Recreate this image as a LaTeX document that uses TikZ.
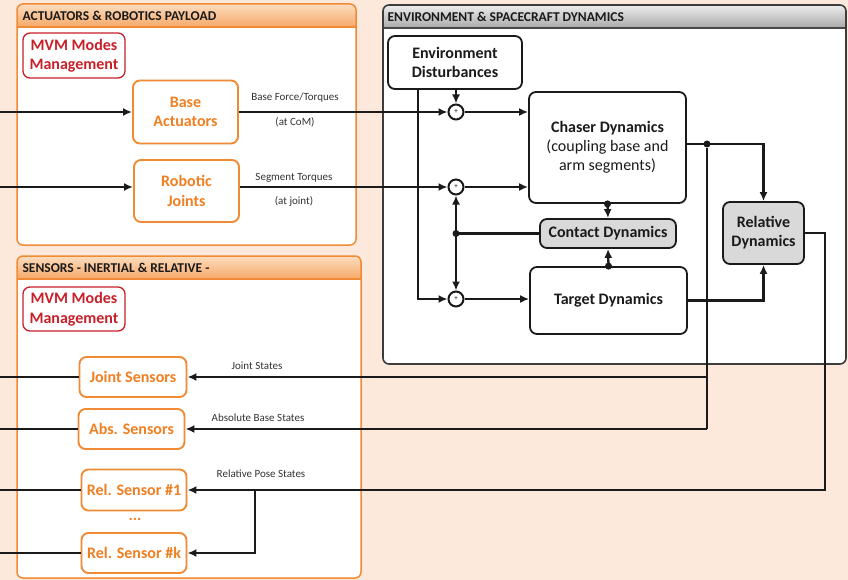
\documentclass[tikz,border=0pt]{standalone}
\usepackage{fontspec}
\setmainfont{Carlito}
\usetikzlibrary{arrows.meta}

\definecolor{bgpeach}{HTML}{FCE9DB}
\definecolor{orline}{HTML}{F08A34}
\definecolor{ortext}{HTML}{F07F22}
\definecolor{orhdrtop}{HTML}{FCDDBF}
\definecolor{orhdrbot}{HTML}{F6A868}
\definecolor{grhdrtop}{HTML}{EDEDED}
\definecolor{grhdrbot}{HTML}{A9A9A9}
\definecolor{mvmred}{HTML}{C8202A}
\definecolor{inkdark}{HTML}{1A1A1A}
\definecolor{labgray}{HTML}{333333}
\definecolor{softgray}{HTML}{D9D9D9}

\tikzset{
  panelor/.style={draw=orline, line width=1.5pt, rounded corners=6pt},
  panelgr/.style={draw=inkdark!85, line width=1.6pt, rounded corners=6pt},
  hdrtext/.style={anchor=west, font=\fontsize{13.5}{15}\selectfont\bfseries, text=inkdark},
  obox/.style={draw=orline, line width=1.9pt, rounded corners=7pt, fill=white,
    text=ortext, font=\fontsize{16}{19.5}\selectfont\bfseries, align=center, inner sep=0pt},
  mvmbox/.style={draw=mvmred, line width=1.3pt, rounded corners=7pt, fill=white,
    text=mvmred, font=\fontsize{16}{19.5}\selectfont\bfseries, align=center, inner sep=0pt},
  dynbox/.style={draw=inkdark, line width=1.8pt, rounded corners=7pt, fill=white,
    text=inkdark, font=\fontsize{16}{19}\selectfont\bfseries, align=center, inner sep=0pt},
  sumnode/.style={circle, draw=inkdark, line width=2pt, fill=white, minimum size=15pt,
    inner sep=0pt, font=\fontsize{7}{7}\selectfont},
  junction/.style={circle, fill=inkdark, minimum size=7pt, inner sep=0pt},
  wire/.style={draw=inkdark, line width=2.3pt},
  arr/.style={wire, -{Latex[length=9pt,width=8pt]}},
  siglab/.style={font=\fontsize{11}{12}\selectfont, text=labgray},
}

\begin{document}
\begin{tikzpicture}[x=1pt,y=-1pt]
  % canvas
  \fill[bgpeach] (0,0) rectangle (848,580);
  \useasboundingbox (0,0) rectangle (848,580);

  % ---------- panel: actuators & robotics payload ----------
  \fill[white, rounded corners=6pt] (17,4) rectangle (356,245);
  \begin{scope}
    \clip[rounded corners=6pt] (17,4) rectangle (356,245);
    \shade[top color=orhdrtop, bottom color=orhdrbot] (17,4) rectangle (356,27);
    \draw[orline, line width=1.2pt] (17,27) -- (356,27);
  \end{scope}
  \draw[panelor] (17,4) rectangle (356,245);
  \node[hdrtext] (hdrA) at (19,16) {ACTUATORS \& ROBOTICS PAYLOAD};

  % ---------- panel: sensors ----------
  \fill[white, rounded corners=6pt] (17,256) rectangle (361,578);
  \begin{scope}
    \clip[rounded corners=6pt] (17,256) rectangle (361,578);
    \shade[top color=orhdrtop, bottom color=orhdrbot] (17,256) rectangle (361,279);
    \draw[orline, line width=1.2pt] (17,279) -- (361,279);
  \end{scope}
  \draw[panelor] (17,256) rectangle (361,578);
  \node[hdrtext] (hdrS) at (19,268) {SENSORS - INERTIAL \& RELATIVE -};

  % ---------- panel: environment & spacecraft dynamics ----------
  \fill[white, rounded corners=6pt] (383,5) rectangle (846,364);
  \begin{scope}
    \clip[rounded corners=6pt] (383,5) rectangle (846,364);
    \shade[top color=grhdrtop, bottom color=grhdrbot] (383,5) rectangle (846,28);
    \draw[inkdark!80, line width=1.2pt] (383,28) -- (846,28);
  \end{scope}
  \draw[panelgr] (383,5) rectangle (846,364);
  \node[hdrtext] (hdrE) at (384,16.5) {ENVIRONMENT \& SPACECRAFT DYNAMICS};

  % ---------- payload blocks ----------
  \node[mvmbox, minimum width=102pt, minimum height=45pt] (mvmA) at (74,55.5) {MVM Modes\\Management};
  \node[obox, minimum width=105pt, minimum height=63pt] (ba) at (185.5,112) {Base\\Actuators};
  \node[obox, minimum width=105pt, minimum height=62pt] (rj) at (186.5,191) {Robotic\\Joints};

  % ---------- sensor blocks ----------
  \node[mvmbox, minimum width=102pt, minimum height=44pt] (mvmS) at (74,309) {MVM Modes\\Management};
  \node[obox, minimum width=107pt, minimum height=40pt] (js) at (133,377) {Joint Sensors};
  \node[obox, minimum width=106pt, minimum height=40pt] (as) at (131.5,429) {Abs. Sensors};
  \node[obox, minimum width=105pt, minimum height=41pt] (rs1) at (134,490) {Rel. Sensor \#1};
  \node[obox, minimum width=105pt, minimum height=40pt] (rsk) at (134,553) {Rel. Sensor \#k};
  \node[text=ortext, font=\fontsize{16}{16}\selectfont\bfseries] (dots) at (135,519) {...};

  % ---------- dynamics blocks ----------
  \node[dynbox, minimum width=134pt, minimum height=53pt] (ed) at (455,62.5) {Environment\\Disturbances};
  \node[dynbox, minimum width=157pt, minimum height=111pt] (ch) at (607.5,147.5)
    {Chaser Dynamics\\{\mdseries (coupling base and}\\{\mdseries arm segments)}};
  \node[dynbox, fill=softgray, minimum width=136pt, minimum height=29pt] (cd) at (608,233.5) {Contact Dynamics};
  \node[dynbox, minimum width=157pt, minimum height=67pt] (td) at (608.5,300.5) {Target Dynamics};
  \node[dynbox, fill=softgray, minimum width=81pt, minimum height=62pt] (rd) at (763.5,233) {Relative\\Dynamics};

  % summing junctions
  \node[sumnode] (s1) at (456,112) {+};
  \node[sumnode] (s2) at (456,187) {+};
  \node[sumnode] (s3) at (456,299) {+};

  % ---------- helper coordinates ----------
  \coordinate (inA) at (0,112);
  \coordinate (inB) at (0,187);
  \coordinate (edx) at (418,0);
  \coordinate (chy) at (0,144);
  \coordinate (jx) at (707,0);
  \coordinate (rx) at (825,0);
  \coordinate (bx) at (255,0);
  \coordinate (lft) at (0,0);

  % ---------- commands into the payload ----------
  \draw[arr] (inA) -- (ba.west);
  \draw[arr] (inB) -- (inB -| rj.west);

  % ---------- payload to dynamics ----------
  \draw[arr] (ba.east) -- (s1.west);
  \draw[arr] (rj.east |- s2) -- (s2.west);
  \node[siglab] (lbBF) at (295,98) {Base Force/Torques};
  \node[siglab] (lbCoM) at (295,122) {(at CoM)};
  \node[siglab] (lbST) at (294,178) {Segment Torques};
  \node[siglab] (lbJ) at (294,201) {(at joint)};

  % disturbances
  \draw[arr] (ed.south -| s1) -- (s1.north);
  \draw[arr] (ed.south -| edx) |- (s3.west);

  % sums into the two bodies
  \draw[arr] (s1.east) -- (s1 -| ch.west);
  \draw[arr] (s2.east) -- (s2 -| ch.west);
  \draw[arr] (s3.east) -- (s3 -| td.west);

  % contact coupling
  \draw[wire] (cd.west) -- (cd.west -| s2) coordinate (cj);
  \node[junction] (cjd) at (cj) {};
  \draw[arr] (cj) -- (s2.south);
  \draw[arr] (cj) -- (s3.north);
  \node[junction] (chb) at (ch.south) {};
  \draw[arr] (ch.south) -- (cd.north);
  \node[junction] (tdt) at (td.north) {};
  \draw[arr] (td.north) -- (cd.south);

  % chaser and target into relative dynamics
  \draw[arr] (ch.east |- chy) -| (rd.north);
  \node[junction] (jd) at (jx |- chy) {};
  \draw[arr] (td.east) -| (rd.south);

  % ---------- states back to the sensors ----------
  \draw[wire] (jd) -- (jx |- as);
  \draw[arr] (jx |- js) -- (js.east);
  \draw[arr] (jx |- as) -- (as.east);
  \draw[arr] (rd.east) -- (rd.east -| rx) -- (rx |- rs1.east) -- (rs1.east);
  \draw[arr] (bx |- rs1.east) |- (rsk.east);
  \node[siglab] (lbJS) at (257,366) {Joint States};
  \node[siglab] (lbAB) at (258,418) {Absolute Base States};
  \node[siglab] (lbRP) at (261,474) {Relative Pose States};

  % sensor outputs
  \draw[wire] (lft |- js) -- (js.west);
  \draw[wire] (lft |- as) -- (as.west);
  \draw[wire] (lft |- rs1) -- (rs1.west);
  \draw[wire] (lft |- rsk) -- (rsk.west);
\end{tikzpicture}
\end{document}
